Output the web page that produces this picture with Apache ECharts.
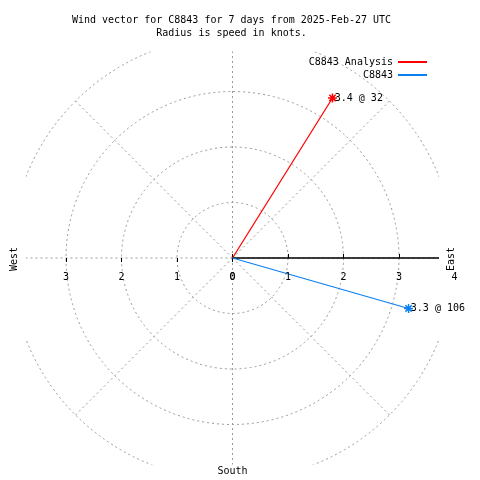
<!DOCTYPE html>
<html>
<head>
<meta charset="utf-8">
<script src="https://cdn.jsdelivr.net/npm/echarts@6/dist/echarts.min.js"></script>
<style>html,body{margin:0;padding:0;background:#fff}#c{width:480px;height:480px}</style>
</head>
<body>
<div id="c"></div>
<script>
const titleLines = ['Wind vector for C8843 for 7 days from 2025-Feb-27 UTC', 'Radius is speed in knots.'];
const seriesNames = ['C8843 Analysis', 'C8843'];
const speeds = [3.4, 3.3];
const directions = [32, 106];
const seriesColors = ['#ff0000', '#0a80f0'];
const radiusTicks = [0, 1, 2, 3, 4];
const compassLabels = ['West', 'East', 'South'];

const FONT = 'DejaVu Sans Mono';
const CX = 232.5, CY = 258, R = 222;
const HALF = 206.5;
const gridColor = '#999999';

function toAngle(dir) { return ((dir - 90) % 360 + 360) % 360; }

const chart = echarts.init(document.getElementById('c'), null, {renderer: 'canvas'});

const polarDefs = [
  {start: 0}, {start: 0}, {start: 0}, {start: 180}, {start: 180}
];
const polar = polarDefs.map(() => ({center: [CX, CY], radius: R}));
const angleAxis = polarDefs.map((p, i) => ({
  polarIndex: i, type: 'value', min: 0, max: 360, interval: 45,
  startAngle: p.start, clockwise: true, show: i === 0,
  axisLine: {show: false}, axisTick: {show: false}, axisLabel: {show: false},
  splitLine: {show: i === 0, lineStyle: {color: gridColor, type: [2, 3], width: 1}},
  z: 0
}));
const baseR = {type: 'value', min: radiusTicks[0], max: radiusTicks[radiusTicks.length - 1], interval: 1};
const lblStyle = {color: '#000', fontFamily: FONT, fontSize: 10};
const radiusAxis = [
  Object.assign({}, baseR, {polarIndex: 0, z: 0,
    axisLine: {show: true, lineStyle: {color: '#000', width: 1.5}},
    axisTick: {show: true, length: 4, lineStyle: {color: '#000', width: 1}},
    axisLabel: {show: false},
    splitLine: {show: true, lineStyle: {color: gridColor, type: [2, 3], width: 1}}}),
  Object.assign({}, baseR, {polarIndex: 1, z: 100,
    axisLine: {show: false}, axisTick: {show: false}, splitLine: {show: false},
    axisLabel: Object.assign({show: true, margin: -24}, lblStyle)}),
  Object.assign({}, baseR, {polarIndex: 2, z: 0,
    axisLine: {show: false}, splitLine: {show: false}, axisLabel: {show: false},
    axisTick: {show: true, inside: true, length: 4, lineStyle: {color: '#000', width: 1}}}),
  Object.assign({}, baseR, {polarIndex: 3, z: 0,
    axisLine: {show: false}, splitLine: {show: false},
    axisTick: {show: true, length: 4, lineStyle: {color: '#000', width: 1}},
    axisLabel: Object.assign({show: true, margin: 14}, lblStyle)}),
  Object.assign({}, baseR, {polarIndex: 4, z: 0,
    axisLine: {show: false}, splitLine: {show: false}, axisLabel: {show: false},
    axisTick: {show: true, inside: true, length: 4, lineStyle: {color: '#000', width: 1}}})
];

const asterisk = 'path://M0,-5L0,5M-5,0L5,0M-3.5,-3.5L3.5,3.5M-3.5,3.5L3.5,-3.5';
const series = seriesNames.map((name, i) => {
  const a = toAngle(directions[i]);
  return {
    name, type: 'line', coordinateSystem: 'polar', polarIndex: 0, z: 20,
    color: seriesColors[i],
    lineStyle: {color: seriesColors[i], width: 1.2},
    showSymbol: true, animation: false,
    itemStyle: {color: seriesColors[i], borderColor: seriesColors[i], borderWidth: 1.5},
    data: [
      {value: [0, a], symbol: 'none'},
      {value: [speeds[i], a], symbol: asterisk, symbolSize: 9,
        label: {show: true, position: 'right', distance: -3, color: '#000', fontFamily: FONT, fontSize: 10,
          formatter: speeds[i] + ' @ ' + directions[i]}}
    ]
  };
});

const mask = (x, y, w, h) => ({type: 'rect', z: 10, silent: true, shape: {x, y, width: w, height: h}, style: {fill: '#fff'}});
const graphic = [
  mask(0, 0, CX - HALF, 480),
  mask(CX + HALF, 0, 480 - (CX + HALF), 480),
  mask(0, 0, 480, CY - HALF),
  mask(0, CY + HALF, 480, 480 - (CY + HALF)),
  {type: 'text', z: 100, x: 14, y: CY + 1, rotation: Math.PI / 2,
    style: {text: compassLabels[0], font: '10px ' + FONT, fill: '#000', align: 'center', verticalAlign: 'middle'}},
  {type: 'text', z: 100, x: 451, y: CY + 1, rotation: Math.PI / 2,
    style: {text: compassLabels[1], font: '10px ' + FONT, fill: '#000', align: 'center', verticalAlign: 'middle'}},
  {type: 'text', z: 100, x: CX, y: 471,
    style: {text: compassLabels[2], font: '10px ' + FONT, fill: '#000', align: 'center', verticalAlign: 'middle'}}
];

chart.setOption({
  backgroundColor: '#fff',
  animation: false,
  title: {
    text: titleLines[0], subtext: titleLines[1], left: 231.5, textAlign: 'center', top: 14, itemGap: 1, padding: 0, z: 100,
    textStyle: {fontFamily: FONT, fontSize: 10, fontWeight: 'normal', color: '#000', lineHeight: 12},
    subtextStyle: {fontFamily: FONT, fontSize: 10, color: '#000', lineHeight: 12}
  },
  legend: {
    orient: 'vertical', right: 53, top: 56, align: 'right', icon: 'rect', itemWidth: 29, itemHeight: 2,
    itemGap: 1, padding: 0, z: 100, data: seriesNames,
    itemStyle: {borderWidth: 0},
    textStyle: {fontFamily: FONT, fontSize: 10, color: '#000', lineHeight: 12}
  },
  polar, angleAxis, radiusAxis, series, graphic
});
</script>
</body>
</html>
